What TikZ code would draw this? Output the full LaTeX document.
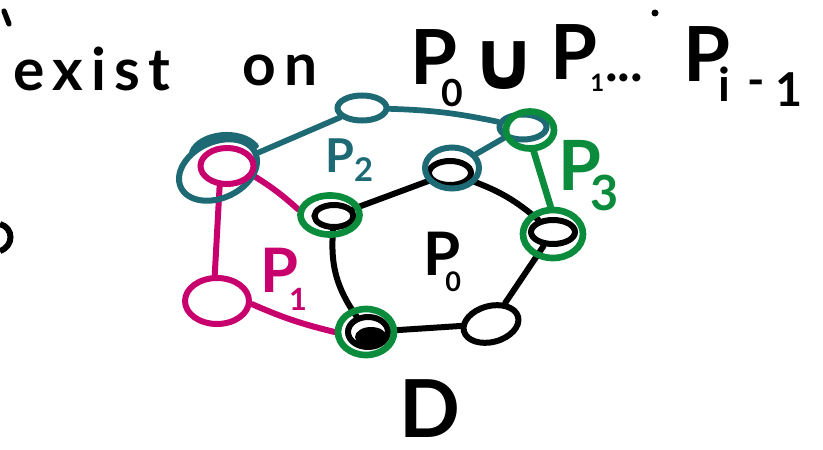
\documentclass[tikz,border=0pt]{standalone}
\usepackage{fontspec}
\usepackage{graphicx}
\setmainfont{Lato}
\newfontfamily\symfont{DejaVu Sans}
\usetikzlibrary{shapes.geometric,backgrounds}
\definecolor{tealc}{HTML}{1E6A74}
\definecolor{magc}{HTML}{C8006E}
\definecolor{grnc}{HTML}{0B8C3C}
\newcommand\hfs[1]{\fontsize{#1}{#1}\selectfont\bfseries}
\tikzset{
  sz/.style 2 args={minimum width=#1*0.75pt, minimum height=#2*0.75pt},
  vert/.style={ellipse, draw=black, line width=4.5pt, inner sep=0pt},
  tvert/.style={ellipse, draw=tealc, line width=4.5pt, inner sep=0pt},
  mvert/.style={ellipse, draw=magc, line width=4.5pt, inner sep=0pt},
  gring/.style={ellipse, draw=grnc, line width=5pt, inner sep=0pt},
  blk/.style={draw=black, line width=4.5pt, line cap=round},
  tl/.style={draw=tealc, line width=4.3pt, line cap=round},
  ml/.style={draw=magc, line width=4.5pt, line cap=round},
  gl/.style={draw=grnc, line width=5pt, line cap=round},
  txt/.style={inner sep=0pt, anchor=base west},
}
\begin{document}
\begin{tikzpicture}[x=0.75pt,y=0.75pt]
\useasboundingbox (0,0) rectangle (823,-449);

% ---------- top line ----------
\node[txt, font=\hfs{44}\addfontfeatures{LetterSpace=14}] (w1) at (13,-91) {exist};
\node[txt, font=\hfs{44}\addfontfeatures{LetterSpace=14}] (w2) at (242,-86) {on};
\node[txt, font=\hfs{57}] (tP0) at (410,-85) {P};
\node[txt, font=\hfs{28}] (tS0) at (441,-107) {0};
\node[inner sep=0pt, font=\symfont\hfs{62}] (tU) at (504,-66) {∪};
\node[txt, font=\hfs{57}] (tP1) at (550,-80) {P};
\node[txt, font=\hfs{18}] (tS1) at (590,-92) {1};
\node[txt, font=\hfs{40}] (tdots) at (605,-82) {...};
\node[txt, font=\hfs{57}] (tPi) at (683,-82) {P};
\node[txt, font=\hfs{35}] (tSi) at (718,-102) {i};
\node[inner sep=0pt, font=\hfs{35}] (tSm) at (756,-88) {-};
\node[txt, font=\hfs{35}] (tS1b) at (775,-107) {1};

% stray marks
\draw[line width=4pt, line cap=round] (4,-11) -- (9,-24);
\fill (655,-13) circle (3.5);
\draw[line width=4.5pt] (0,-224) .. controls (14,-228) and (14,-246) .. (0,-251);

% ---------- P0 cycle (black) ----------
\node[vert, sz={39}{22}] (vA) at (334,-216) {};
\node[vert, sz={42}{24}] (vB) at (450,-173) {};
\node[vert, sz={44}{24}] (vC) at (553,-232) {};
\node[vert, sz={56}{36}, rotate=15] (vD) at (491,-324) {};
\node[vert, sz={40}{30}] (vE) at (368,-332) {};
\node[ellipse, fill=black, inner sep=0pt, sz={32}{20}] (vEf) at (371,-337) {};

% ---------- P2 (teal) ----------
\node[tvert, sz={82}{56}, rotate=25] (tL) at (218,-170) {};
\node[tvert, sz={49}{25}] (tT) at (362,-108) {};
\node[tvert, sz={47}{25}] (tR) at (523,-127) {};
\node[tvert, sz={54}{41}] (tB) at (452,-168) {};
\draw[tl] (192,-152) .. controls (200,-133) and (240,-128) .. (256,-146);

% ---------- P1 (magenta) ----------
\node[mvert, sz={53}{36}] (mL) at (227,-166) {};
\node[mvert, sz={64}{46}] (mB) at (217,-301) {};

% ---------- green rings ----------
\node[gring, sz={59}{39}] (gA) at (330,-215) {};
\node[gring, sz={60}{48}] (gC) at (553,-234) {};
\node[gring, sz={56}{46}] (gE) at (366,-332) {};
\node[gring, sz={48}{37}] (gR) at (530,-130) {};

% ---------- connectors ----------
\begin{scope}[on background layer]
  \draw[blk] (vA) -- (vB);
  \draw[blk] (vB) to[bend left=10] (vC);
  \draw[blk] (vC) -- (vD);
  \draw[blk] (vD) -- (vE);
  \draw[blk] (vA) to[bend right=20] (vE);
  \draw[tl] (tL) -- (tT);
  \draw[tl] (tT) to[bend left=5] (tR);
  \draw[tl] (tR) -- (tB);
  \draw[ml] (mL.250) -- (mB.95);
  \draw[ml] (mL.-20) to[bend left=5] (gA.170);
  \draw[ml] (mB.-5) to[bend right=5] (gE.west);
  \draw[gl] (gR.-80) -- (gC.95);
\end{scope}

% ---------- labels ----------
\node[txt, text=tealc, font=\hfs{35}] (lP2) at (325,-172) {P\raisebox{-0.21em}{\scalebox{0.7}{2}}};
\node[txt, text=grnc, font=\hfs{52}] (lP3) at (558,-190) {P\kern-0.15em\raisebox{-0.29em}{\scalebox{0.7}{3}}};
\node[txt, text=magc, font=\hfs{46}] (lP1) at (260,-292) {P\kern-0.15em\raisebox{-0.3em}{\scalebox{0.5}{1}}};
\node[txt, font=\hfs{45}] (lP0) at (423,-275) {P\kern-0.25em\raisebox{-0.28em}{\scalebox{0.45}{0}}};
\node[inner sep=0pt, font=\hfs{60}] (lD) at (430,-409) {D};
\end{tikzpicture}
\end{document}
